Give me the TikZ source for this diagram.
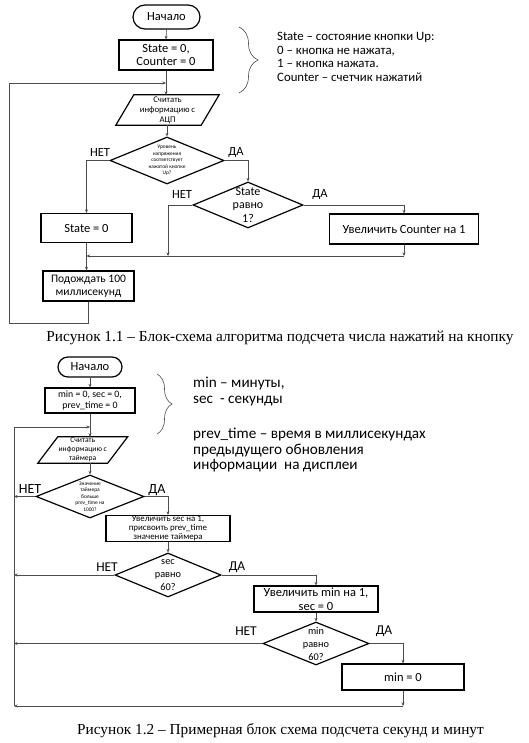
\documentclass[tikz,border=0pt]{standalone}
\usepackage{fontspec}
\setmainfont{Carlito}
\newfontfamily\capfont{Liberation Serif}
\usetikzlibrary{shapes.geometric,shapes.misc,arrows.meta,decorations.pathreplacing}
\tikzset{
  blk/.style={draw=black, line width=1.2pt, rectangle, inner sep=0pt, align=center},
  term/.style={draw=black, line width=1.2pt, rounded rectangle, inner sep=0pt},
  dia/.style={draw=black, line width=1.2pt, diamond, inner sep=0pt},
  txt/.style={inner sep=0pt, align=center},
  con/.style={draw=black!70, line width=0.6pt},
  arr/.style={con, -{Stealth[length=3.5pt,width=3pt]}},
  lbl/.style={inner sep=0pt},
  brc/.style={draw=black!70, line width=0.6pt, decorate, decoration={brace, amplitude=#1}},
  parl/.style={draw=black, line width=1.2pt},
}
\newcommand{\fs}[2]{\fontsize{#1}{#2}\selectfont}
\begin{document}
\begin{tikzpicture}[x=1pt,y=-1pt]
\useasboundingbox (0,0) rectangle (528,743);
\fill[white] (0,0) rectangle (528,743);

% ===== Figure 1.1 =====
\node[term, minimum width=67pt, minimum height=24pt, font=\fs{12.5}{14}] (s1) at (166.5,17) {Начало};
\node[blk, minimum width=94pt, minimum height=30pt, font=\fs{12.5}{13.5}] (i1) at (166,55) {State = 0,\\Counter = 0};
\coordinate (j1) at (166,83);
\node[txt, minimum width=85pt, minimum height=30pt, font=\fs{8.7}{10}] (r1) at (167.5,110) {Считать\\информацию с\\АЦП};
\draw[parl] ([xshift=9pt]r1.north west) -- ([xshift=9pt]r1.north east) -- ([xshift=-9pt]r1.south east) -- ([xshift=-9pt]r1.south west) -- cycle;
\node[dia, minimum width=114pt, minimum height=47pt] (d1) at (167,160.5) {};
\node[txt, font=\fs{5.4}{6.4}] (d1t) at (d1.center) {Уровень\\напряжения\\соответствует\\нажатой кнопке\\Up?};
\node[blk, minimum width=91pt, minimum height=29pt, font=\fs{12.5}{14}] (s0) at (86.5,228) {State = 0};
\node[dia, minimum width=110pt, minimum height=46pt] (d2) at (248,205) {};
\node[txt, font=\fs{12}{13.5}] (d2t) at (d2.center) {State\\равно\\1?};
\node[blk, minimum width=149pt, minimum height=30pt, font=\fs{12.5}{14}] (cnt) at (404,229) {Увеличить Counter на 1};
\coordinate (mL) at (168,256);
\node[blk, minimum width=91pt, minimum height=30pt, font=\fs{11.5}{13.5}] (w1) at (88.5,286) {Подождать 100\\миллисекунд};
\coordinate (lb1) at (9,323);

\node[lbl, font=\fs{12.5}{14}] (n1) at (100,152) {НЕТ};
\node[lbl, font=\fs{12.5}{14}] (y1) at (236,152) {ДА};
\node[lbl, font=\fs{12.5}{14}] (n2) at (182,194) {НЕТ};
\node[lbl, font=\fs{12.5}{14}] (y2) at (320,194) {ДА};

\draw[arr] (s1.south) -- (i1.north);
\draw[arr] (i1.south) -- (i1.south |- r1.north);
\draw[arr] (d1.north |- r1.south) -- (d1.north);
\draw[arr] (d1.west) -| (s0.north);
\draw[arr] (d1.east) -| (d2.north);
\draw[arr] (d2.west) -| (mL);
\draw[arr] (d2.east) -| (cnt.north);
\draw[arr] (cnt.south) -- (cnt.south |- mL);
\draw[arr] (cnt.south |- mL) -- (s0.south |- mL);
\draw[arr] (s0.south) -- (s0.south |- w1.north);
\draw[arr] (w1.south) |- (lb1) |- (j1);

\draw[brc=19pt] (239,27) -- (239,93);
\node[anchor=north west, inner sep=0pt, align=left, font=\fs{12.8}{13.5}] (a1) at (277,32) {State – состояние кнопки Up:\\0 – кнопка не нажата,\\1 – кнопка нажата.\\Counter – счетчик нажатий};

\node[inner sep=0pt, font=\capfont\fs{15.3}{17}] (c1) at (280,338) {Рисунок 1.1 – Блок-схема алгоритма подсчета числа нажатий на кнопку};

% ===== Figure 1.2 =====
\node[term, minimum width=64pt, minimum height=20pt, font=\fs{12.5}{14}] (s2) at (90,367) {Начало};
\node[blk, minimum width=90pt, minimum height=25pt, font=\fs{9.8}{11}] (i2) at (90,400.5) {min = 0, sec = 0,\\prev\_time = 0};
\coordinate (j2) at (90,427);
\node[txt, minimum width=69.5pt, minimum height=26pt, font=\fs{7.6}{9}] (r2) at (82.75,450) {Считать\\информацию с\\таймера};
\draw[parl] ([xshift=10pt]r2.north west) -- ([xshift=10pt]r2.north east) -- ([xshift=-10pt]r2.south east) -- ([xshift=-10pt]r2.south west) -- cycle;
\node[dia, minimum width=108pt, minimum height=43pt] (d3) at (90,496.5) {};
\node[txt, font=\fs{5.4}{6.4}] (d3t) at (d3.center) {Значение\\таймера\\больше\\prev\_time на\\1000?};
\node[blk, minimum width=124pt, minimum height=26pt, font=\fs{8.9}{8.8}] (sb) at (168,528.5) {Увеличить sec на 1,\\присвоить prev\_time\\значение таймера};
\node[dia, minimum width=106pt, minimum height=44pt] (d4) at (168,575) {};
\node[txt, font=\fs{10.3}{13}] (d4t) at (d4.center) {sec\\равно\\60?};
\node[blk, minimum width=124pt, minimum height=26pt, font=\fs{12.5}{13.5}] (mb) at (316,599) {Увеличить min на 1,\\sec = 0};
\node[dia, minimum width=106pt, minimum height=43pt] (d5) at (316,643.5) {};
\node[txt, font=\fs{10.3}{13}] (d5t) at (d5.center) {min\\равно\\60?};
\node[blk, minimum width=122pt, minimum height=26pt, font=\fs{12.5}{14}] (z0) at (403,677) {min = 0};
\coordinate (lb2) at (14,706);

\node[lbl, font=\fs{14}{16}] (n3) at (30,489) {НЕТ};
\node[lbl, font=\fs{14}{16}] (y3) at (157,490) {ДА};
\node[lbl, font=\fs{13.5}{16}] (n4) at (107,567) {НЕТ};
\node[lbl, font=\fs{13.5}{16}] (y4) at (237,567) {ДА};
\node[lbl, font=\fs{13.5}{16}] (n5) at (246,631) {НЕТ};
\node[lbl, font=\fs{13.5}{16}] (y5) at (384,631) {ДА};

\draw[arr] (s2.south) -- (i2.north);
\draw[arr] (i2.south) -- (i2.south |- r2.north);
\draw[arr] (d3.north |- r2.south) -- (d3.north);
\draw[arr] (d3.west) -- (d3.west -| lb2);
\draw[arr] (d3.east) -| (sb.north);
\draw[arr] (sb.south) -- (d4.north);
\draw[arr] (d4.west) -- (d4.west -| lb2);
\draw[arr] (d4.east) -| (mb.north);
\draw[arr] (mb.south) -- (d5.north);
\draw[arr] (d5.west) -- (d5.west -| lb2);
\draw[arr] (d5.east) -| (z0.north);
\draw[arr] (z0.south) -- (z0.south |- lb2);
\draw[arr] (z0.south |- lb2) -- (lb2);
\draw[arr] (lb2) |- (j2);

\draw[brc=15pt] (157,374) -- (157,434);
\node[anchor=north west, inner sep=0pt, align=left, font=\fs{15.2}{15.5}] (a2) at (193,377) {min – минуты,\\sec\ \ - секунды\\[20pt]prev\_time – время в миллисекундах\\предыдущего обновления\\информации\ \ на дисплеи};

\node[inner sep=0pt, font=\capfont\fs{15.3}{17}] (c2) at (280.5,731) {Рисунок 1.2 – Примерная блок схема подсчета секунд и минут};
\end{tikzpicture}
\end{document}
